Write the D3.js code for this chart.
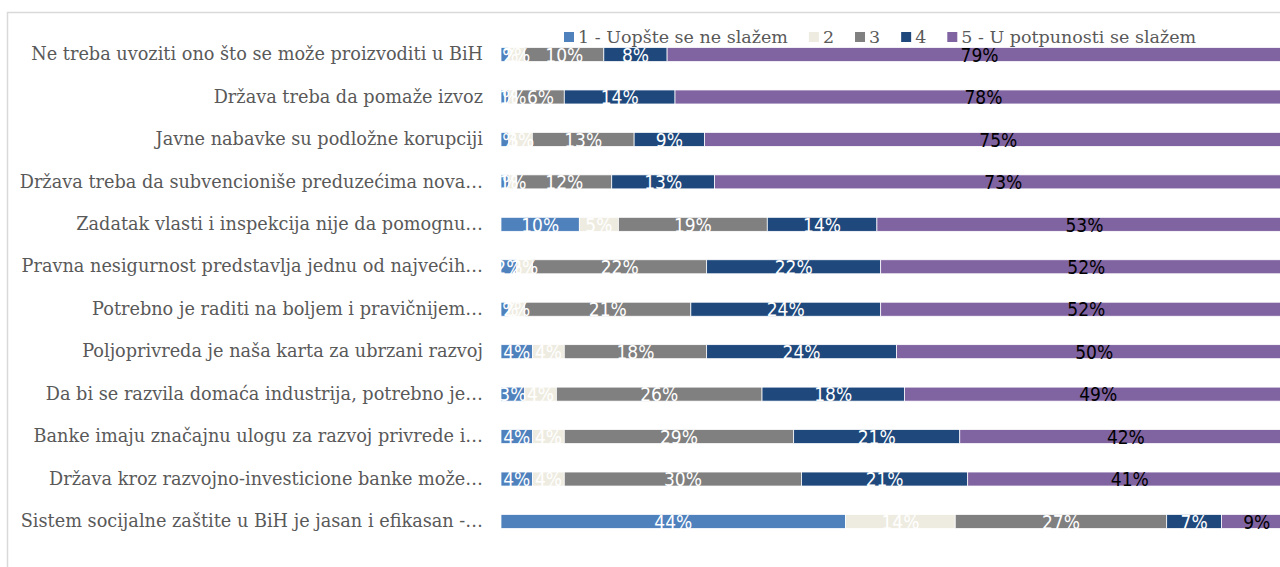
<!DOCTYPE html>
<html>
<head>
<meta charset="utf-8">
<script src="https://cdn.jsdelivr.net/npm/d3@7"></script>
<style>
  body { margin: 0; background: #fff; }
  svg { display: block; }
</style>
</head>
<body>
<svg id="chart" width="1280" height="567"></svg>
<script>
var categories = [
  "Ne treba uvoziti ono što se može proizvoditi u BiH",
  "Država treba da pomaže izvoz",
  "Javne nabavke su podložne korupciji",
  "Država treba da subvencioniše preduzećima nova…",
  "Zadatak vlasti i inspekcija nije da pomognu…",
  "Pravna nesigurnost predstavlja jednu od najvećih…",
  "Potrebno je raditi na boljem i pravičnijem…",
  "Poljoprivreda je naša karta za ubrzani razvoj",
  "Da bi se razvila domaća industrija, potrebno je…",
  "Banke imaju značajnu ulogu za razvoj privrede i…",
  "Država kroz razvojno-investicione banke može…",
  "Sistem socijalne zaštite u BiH je jasan i efikasan -…"
];
var seriesNames = ["1 - Uopšte se ne slažem", "2", "3", "4", "5 - U potpunosti se slažem"];
var s1 = [1, 1, 1, 1, 10, 2, 1, 4, 3, 4, 4, 44];
var s2 = [2, 1, 3, 1, 5, 2, 2, 4, 4, 4, 4, 14];
var s3 = [10, 6, 13, 12, 19, 22, 21, 18, 26, 29, 30, 27];
var s4 = [8, 14, 9, 13, 14, 22, 24, 24, 18, 21, 21, 7];
var s5 = [79, 78, 75, 73, 53, 52, 52, 50, 49, 42, 41, 9];
var colors = ["#4F81BD", "#EEECE1", "#808080", "#1F497D", "#8064A2"];
var labelColors = ["#fff", "#fff", "#fff", "#fff", "#000"];

var serifFont = "'DejaVu Serif', 'Liberation Serif', serif";

var svg = d3.select("#chart");

// chart border (cropped on right and bottom like the original)
svg.append("rect")
  .attr("x", 7.5).attr("y", 12.5)
  .attr("width", 1300).attr("height", 600)
  .attr("fill", "none")
  .attr("stroke", "#d9d9d9")
  .attr("stroke-width", 1.5);

var keys = ["k0", "k1", "k2", "k3", "k4"];
var series = [s1, s2, s3, s4, s5];
var rows = categories.map(function(c, i){
  var r = {cat: c};
  keys.forEach(function(k, j){ r[k] = series[j][i]; });
  return r;
});

var stack = d3.stack().keys(keys).offset(d3.stackOffsetExpand);
var layers = stack(rows);

var x = d3.scaleLinear().domain([0, 1]).range([501, 1292]);
var y = d3.scaleBand().domain(categories).range([33.3, 542.7]).padding(0);
var barH = 14;
var by = d => y(d.data.cat) + y.bandwidth() / 2 - barH / 2;

var g = svg.append("g");

var layer = g.selectAll(".layer")
  .data(layers)
  .enter().append("g")
  .attr("class", "layer")
  .attr("fill", (d, i) => colors[i]);

layer.selectAll("rect")
  .data(d => d)
  .enter().append("rect")
  .attr("x", d => x(d[0]))
  .attr("y", by)
  .attr("width", d => x(d[1]) - x(d[0]))
  .attr("height", barH)
  .attr("stroke", "#fff")
  .attr("stroke-width", 0.75);

// data labels
layers.forEach(function(l, i){
  g.append("g").selectAll("text")
    .data(l)
    .enter().append("text")
    .attr("x", d => (x(d[0]) + x(d[1])) / 2)
    .attr("y", d => y(d.data.cat) + y.bandwidth() / 2)
    .attr("dy", "0.38em")
    .attr("text-anchor", "middle")
    .attr("fill", labelColors[i])
    .style("font-family", "'Liberation Sans Narrow', 'DejaVu Sans Condensed', sans-serif")
    .style("font-size", "19px")
    .text(d => series[i][categories.indexOf(d.data.cat)] + "%");
});

// category axis labels
var yAxis = d3.axisLeft(y).tickSize(0).tickPadding(18);
var ax = svg.append("g")
  .attr("transform", "translate(501,0)")
  .call(yAxis);
ax.select(".domain").remove();
ax.selectAll("text")
  .attr("fill", "#595959")
  .style("font-family", serifFont)
  .style("font-size", "17.7px");

// legend
var legend = svg.append("g").attr("transform", "translate(564,37)");
var lx = 0;
seriesNames.forEach(function(name, i){
  var item = legend.append("g").attr("transform", "translate(" + lx + ",0)");
  item.append("rect")
    .attr("x", 0).attr("y", -5)
    .attr("width", 10).attr("height", 10)
    .attr("fill", colors[i]);
  var t = item.append("text")
    .attr("x", 14)
    .attr("dy", "0.35em")
    .attr("fill", "#595959")
    .style("font-family", serifFont)
    .style("font-size", "17.5px")
    .text(name);
  lx += 14 + t.node().getComputedTextLength() + 21;
});
</script>
</body>
</html>
